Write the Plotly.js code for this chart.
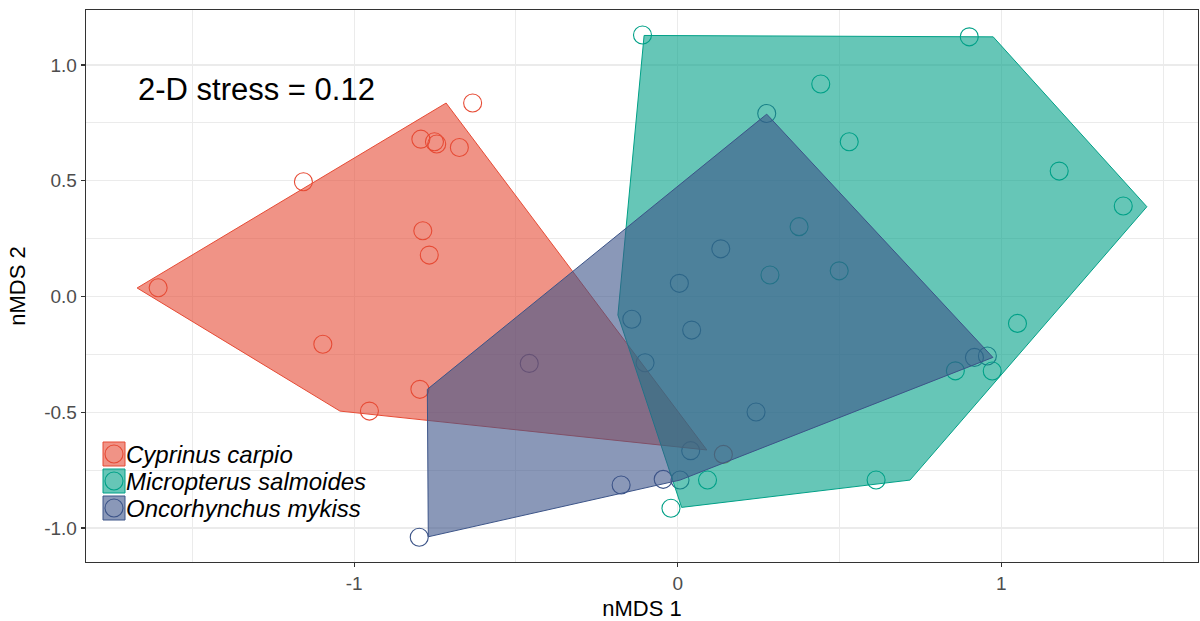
<!DOCTYPE html>
<html>
<head>
<meta charset="utf-8">
<script src="https://cdn.plot.ly/plotly-3.0.1.min.js"></script>
<style>html,body{margin:0;padding:0;background:#fff;}#chart{width:1200px;height:621px;}</style>
</head>
<body>
<div id="chart"></div>
<script>
// Species names
const species = ["Cyprinus carpio", "Micropterus salmoides", "Oncorhynchus mykiss"];

// nMDS scores
const carpioX = [-0.634, -0.794, -0.752, -0.745, -0.675, -1.157, -0.788, -0.768, -1.606, -1.097, -0.797, -0.953, 0.141];
const carpioY = [0.836, 0.680, 0.669, 0.659, 0.644, 0.496, 0.284, 0.179, 0.038, -0.206, -0.401, -0.495, -0.682];

const salmoidesX = [-0.109, 0.442, 0.901, 0.530, 1.179, 1.377, 0.375, 0.285, 0.499, 1.050, 0.972, 0.858, 0.092, 0.613, -0.021];
const salmoidesY = [1.130, 0.918, 1.122, 0.669, 0.542, 0.391, 0.302, 0.093, 0.111, -0.116, -0.322, -0.321, -0.793, -0.793, -0.915];

const mykissX = [0.275, 0.957, 0.917, -0.799, 0.007, -0.459, -0.175, -0.045, -0.101, 0.043, 0.242, 0.133, 0.005, -0.142, 0.040];
const mykissY = [0.791, -0.257, -0.263, -1.040, -0.793, -0.289, -0.814, -0.790, -0.286, -0.145, -0.499, 0.206, 0.057, -0.098, -0.666];

// Hull outlines as drawn in the picture
const carpioHullX = [-1.671, -0.716, 0.090, -1.044];
const carpioHullY = [0.037, 0.836, -0.663, -0.495];
const salmoidesHullX = [-0.104, 0.975, 1.450, 0.718, 0.012, -0.185];
const salmoidesHullY = [1.128, 1.122, 0.388, -0.793, -0.911, -0.080];
const mykissHullX = [-0.774, 0.275, 0.974, 0.007, -0.771];
const mykissHullY = [-0.401, 0.788, -0.263, -0.793, -1.038];

// Tick labels
const xTickVals = [-1, 0, 1];
const xTickText = ["-1", "0", "1"];
const yTickVals = [-1, -0.5, 0, 0.5, 1];
const yTickText = ["-1.0", "-0.5", "0.0", "0.5", "1.0"];

const stressLabel = "2-D stress = 0.12";

const lineCols = ["#E64B35", "#00A087", "#3C5488"];
const fillCols = ["rgba(230,75,53,0.6)", "rgba(0,160,135,0.6)", "rgba(60,84,136,0.6)"];

const pts = [[carpioX, carpioY], [salmoidesX, salmoidesY], [mykissX, mykissY]];
const hulls = [[carpioHullX, carpioHullY], [salmoidesHullX, salmoidesHullY], [mykissHullX, mykissHullY]];

const traces = [];
pts.forEach((p, i) => {
  traces.push({
    type: "scatter", mode: "markers", x: p[0], y: p[1], name: species[i],
    showlegend: false, hoverinfo: "skip",
    marker: {symbol: "circle-open", size: 18, color: lineCols[i], line: {width: 1.1, color: lineCols[i]}}
  });
});
hulls.forEach((h, i) => {
  traces.push({
    type: "scatter", mode: "lines", x: h[0].concat([h[0][0]]), y: h[1].concat([h[1][0]]), name: species[i],
    showlegend: false, hoverinfo: "skip", fill: "toself", fillcolor: fillCols[i],
    line: {color: lineCols[i], width: 1}
  });
});

// layout geometry helpers (pixel -> paper)
const L = 86, R = 2, T = 10, B = 59, W = 1200, H = 621;
const pw = W - L - R, ph = H - T - B;
const px = v => (v - L) / pw;
const py = v => (H - B - v) / ph;

const FONT = "Arial, 'Liberation Sans', sans-serif";
const shapes = [];
const annotations = [];
const legendCenters = [454, 481, 508];
species.forEach((s, i) => {
  const cy = legendCenters[i];
  shapes.push({type: "circle", xref: "paper", yref: "paper", x0: px(105), x1: px(123), y0: py(cy + 9), y1: py(cy - 9),
    line: {color: lineCols[i], width: 1.1}, fillcolor: "rgba(0,0,0,0)", layer: "above"});
  shapes.push({type: "rect", xref: "paper", yref: "paper", x0: px(103), x1: px(125), y0: py(cy + 12), y1: py(cy - 12),
    line: {color: lineCols[i], width: 1}, fillcolor: fillCols[i], layer: "above"});
  annotations.push({xref: "paper", yref: "paper", x: px(124), y: py(cy), xanchor: "left", yanchor: "middle",
    text: "<i>" + s + "</i>", showarrow: false,
    font: {family: FONT, size: 24, color: "#000"}});
});
annotations.push({xref: "paper", yref: "paper", x: px(136), y: py(90), xanchor: "left", yanchor: "middle",
  text: stressLabel, showarrow: false,
  font: {family: FONT, size: 31, color: "#000"}});

const axisCommon = {
  showline: true, mirror: true, linecolor: "#333333", linewidth: 1.3,
  ticks: "outside", ticklen: 4, tickwidth: 1.2, tickcolor: "#333333",
  tickfont: {family: FONT, size: 19, color: "#4D4D4D"},
  showgrid: true, gridcolor: "#EBEBEB", gridwidth: 1.3, zeroline: false,
};

const layout = {
  width: W, height: H,
  margin: {l: L, r: R, t: T, b: B, pad: 0},
  paper_bgcolor: "#fff", plot_bgcolor: "#fff",
  showlegend: false,
  xaxis: Object.assign({}, axisCommon, {
    range: [-1.829, 1.608], tickmode: "array", tickvals: xTickVals, ticktext: xTickText,
    minor: {tickmode: "array", tickvals: [-1.5, -0.5, 0.5, 1.5], showgrid: true, gridcolor: "#EBEBEB", gridwidth: 1, ticks: ""},
    title: {text: "nMDS 1", standoff: 12, font: {family: FONT, size: 22, color: "#000"}}
  }),
  yaxis: Object.assign({}, axisCommon, {
    range: [-1.147, 1.238], tickmode: "array", tickvals: yTickVals, ticktext: yTickText,
    minor: {tickmode: "array", tickvals: [-0.75, -0.25, 0.25, 0.75], showgrid: true, gridcolor: "#EBEBEB", gridwidth: 1, ticks: ""},
    title: {text: "nMDS 2", standoff: 12, font: {family: FONT, size: 22, color: "#000"}}
  }),
  shapes: shapes,
  annotations: annotations
};

Plotly.newPlot("chart", traces, layout, {staticPlot: true, displayModeBar: false});
</script>
</body>
</html>
